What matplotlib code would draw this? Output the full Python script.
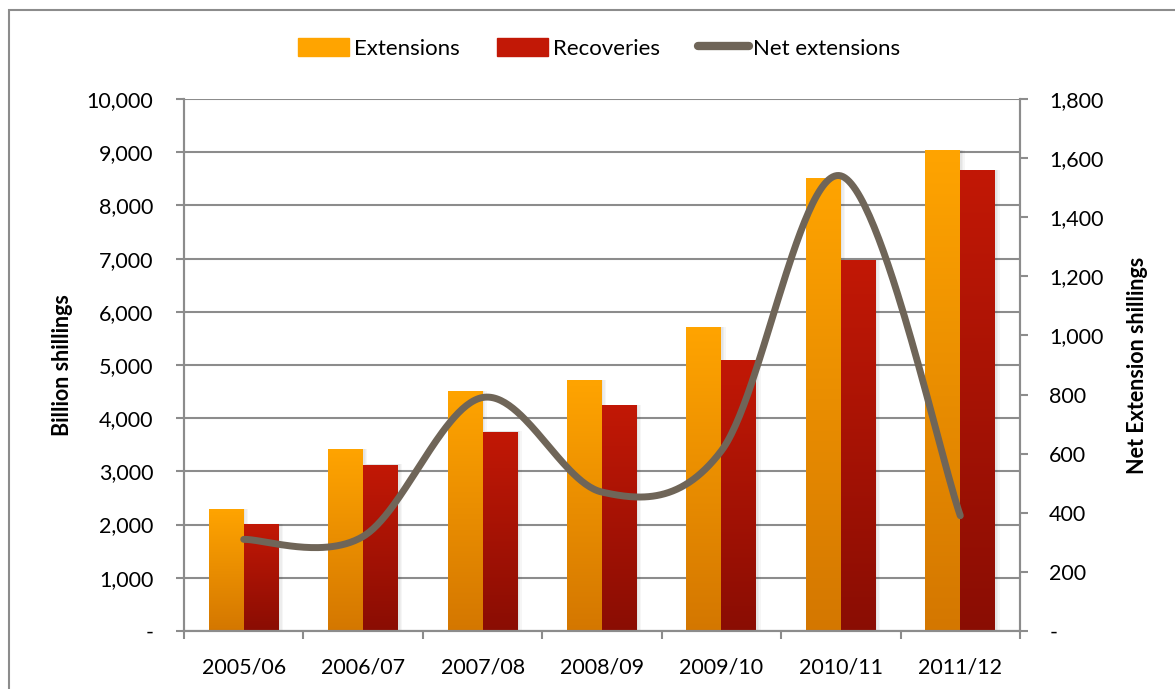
import numpy as np
import matplotlib.pyplot as plt
from matplotlib.patches import Rectangle
from matplotlib.lines import Line2D
from matplotlib.ticker import FuncFormatter, MultipleLocator

plt.rcParams['font.family'] = ['Lato', 'DejaVu Sans']

years = ['2005/06', '2006/07', '2007/08', '2008/09', '2009/10', '2010/11', '2011/12']
extensions = [2275, 3420, 4510, 4700, 5700, 8510, 9040]
recoveries = [2010, 3120, 3740, 4230, 5090, 6970, 8650]
net_extensions = [310, 320, 790, 470, 610, 1540, 390]

ext_top, ext_bot = '#ffa400', '#d47700'
rec_top, rec_bot = '#c21806', '#8a0d03'
line_col = '#6f6558'
grid_col = '#8c8c8c'


def gradient_bars(ax, bars, top, bottom):
    c0 = np.array(plt.matplotlib.colors.to_rgb(bottom))
    c1 = np.array(plt.matplotlib.colors.to_rgb(top))
    t = np.linspace(0, 1, 256)[:, None]
    img = (c0 + (c1 - c0) * t)[:, None, :]
    for b in bars:
        x0, w, h = b.get_x(), b.get_width(), b.get_height()
        # faint drop shadow on the right side
        for k in (0.012, 0.024, 0.036):
            ax.add_patch(Rectangle((x0 + k, 0), w, h + 10, color='black',
                                   alpha=0.035, lw=0, zorder=1.5))
        ax.imshow(img, extent=(x0, x0 + w, 0, h), origin='lower',
                  aspect='auto', zorder=2, interpolation='bilinear')
        b.set_visible(False)


def smooth(xs, ys, n=60):
    # Bezier smoothing through the points (Catmull-Rom style)
    p = np.column_stack([xs, ys]).astype(float)
    p = np.vstack([p[0], p, p[-1]])
    out = []
    for i in range(1, len(p) - 2):
        p0, p1, p2, p3 = p[i - 1], p[i], p[i + 1], p[i + 2]
        c1 = p1 + (p2 - p0) / 6
        c2 = p2 - (p3 - p1) / 6
        t = np.linspace(0, 1, n)[:, None]
        seg = ((1 - t) ** 3) * p1 + 3 * ((1 - t) ** 2) * t * c1 \
            + 3 * (1 - t) * t ** 2 * c2 + t ** 3 * p2
        out.append(seg)
    s = np.vstack(out)
    return s[:, 0], s[:, 1]


fig = plt.figure(figsize=(11.75, 6.89), dpi=100)
ax = fig.add_axes([0.1566, 0.0842, 0.7115, 0.7721])
ax2 = ax.twinx()

x = np.arange(len(years))
bw = 0.293
b1 = ax.bar(x - bw / 2, extensions, bw, color=ext_top)
b2 = ax.bar(x + bw / 2, recoveries, bw, color=rec_top)
gradient_bars(ax, b1, ext_top, ext_bot)
gradient_bars(ax, b2, rec_top, rec_bot)

ax.set_xlim(-0.5, len(years) - 0.5)
ax.set_ylim(0, 10000)
ax.yaxis.set_major_locator(MultipleLocator(1000))
fmt = FuncFormatter(lambda v, p: '-' if v == 0 else f'{v:,.0f}')
ax.yaxis.set_major_formatter(fmt)
ax.grid(axis='y', color=grid_col, lw=1.5, zorder=0)
ax.set_axisbelow(True)

sx, sy = smooth(x, net_extensions)
ax2.plot(sx, sy, color=line_col, lw=5, solid_capstyle='round', zorder=5)
ax2.set_ylim(0, 1800)
ax2.yaxis.set_major_locator(MultipleLocator(200))
ax2.yaxis.set_major_formatter(fmt)

ax.set_xticks(x)
ax.set_xticklabels(years, fontsize=15.5)
ax.set_xticks(np.arange(-0.5, len(years)), minor=True)
ax.tick_params(axis='x', which='major', length=0, pad=19)
ax.tick_params(axis='x', which='minor', length=6, width=1.5, color=grid_col,
               direction='out')
ax.tick_params(axis='y', length=6, width=1.5, color=grid_col, labelsize=15.5,
               pad=16)
ax2.tick_params(axis='y', length=6, width=1.5, color=grid_col, labelsize=15.5,
                pad=15)

for a in (ax, ax2):
    a.spines['top'].set_visible(False)
    for s in ('left', 'right', 'bottom'):
        a.spines[s].set_color(grid_col)
        a.spines[s].set_linewidth(1.5)

ax.set_ylabel('Billion shillings', fontsize=15.5, fontweight='bold', labelpad=10)
ax2.set_ylabel('Net Extension shillings', fontsize=15.5, fontweight='bold',
               labelpad=17)

handles = [Rectangle((0, 0), 1, 1, color=ext_top),
           Rectangle((0, 0), 1, 1, color=rec_top),
           Line2D([0], [0], color=line_col, lw=6, solid_capstyle='round')]
fig.legend(handles, ['Extensions', 'Recoveries', 'Net extensions'],
           loc='center', bbox_to_anchor=(0.51, 0.93), ncol=3, frameon=False,
           fontsize=16, handlelength=2.3, handleheight=0.9, handletextpad=0.2,
           columnspacing=1.7)

# outer chart border
fig.patches.append(Rectangle((9 / 1175, -0.1), 1.2, 1.1 - 10 / 689,
                             transform=fig.transFigure, fill=False,
                             edgecolor=grid_col, lw=1.5))

fig.savefig('out.png', dpi=100)
